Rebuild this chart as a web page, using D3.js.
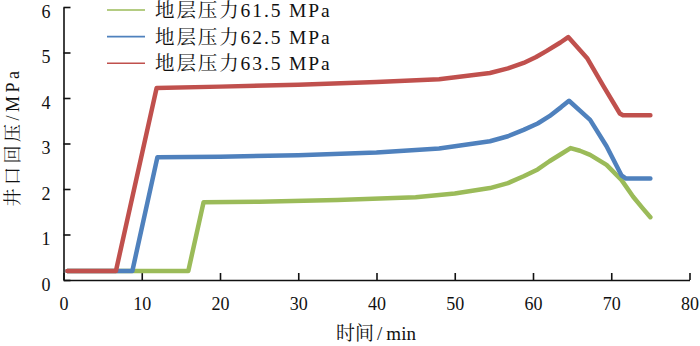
<!DOCTYPE html>
<html>
<head>
<meta charset="utf-8">
<script src="https://cdn.jsdelivr.net/npm/d3@7"></script>
<style>
  body { margin: 0; background: #fff; }
</style>
</head>
<body>
<div id="chart"></div>
<script>
// data: time (min) and wellhead back pressure (MPa)
var seriesNames = ["地层压力61.5 MPa", "地层压力62.5 MPa", "地层压力63.5 MPa"];
var seriesColors = ["#9BBB59", "#4F81BD", "#C0504D"];

var greenT = [0.5, 15.95, 17.9, 25, 35, 45, 50, 54.5, 56.8, 58.8, 60.6, 62.1, 63.7, 64.8, 66, 67.3, 69.4, 71.3, 72.8, 74, 75];
var greenP = [0.2, 0.2, 1.71, 1.72, 1.76, 1.82, 1.9, 2.02, 2.13, 2.28, 2.43, 2.61, 2.78, 2.90, 2.84, 2.75, 2.53, 2.20, 1.83, 1.58, 1.38];

var blueT = [0.5, 8.8, 12.0, 20, 30, 40, 48, 54.5, 56.8, 58.8, 60.6, 62.1, 63.6, 64.6, 67.3, 69.4, 71.3, 71.9, 75];
var blueP = [0.2, 0.2, 2.70, 2.71, 2.74, 2.80, 2.89, 3.05, 3.16, 3.30, 3.44, 3.60, 3.80, 3.94, 3.52, 2.94, 2.30, 2.23, 2.23];

var redT = [0.5, 6.7, 11.9, 20, 30, 40, 48, 54.5, 56.8, 58.8, 60.4, 61.7, 63.5, 64.5, 66.9, 69.0, 71.1, 71.5, 75];
var redP = [0.2, 0.2, 4.22, 4.25, 4.29, 4.35, 4.41, 4.55, 4.65, 4.77, 4.90, 5.03, 5.22, 5.34, 4.88, 4.26, 3.66, 3.62, 3.62];

var xTicks = [0, 10, 20, 30, 40, 50, 60, 70, 80];
var yTicks = [0, 1, 2, 3, 4, 5, 6];

var font = "'Liberation Serif', 'Noto Serif CJK SC', 'Noto Sans CJK SC', serif";

var svgWidth = 700, svgHeight = 346;
var margin = {top: 7, right: 10, bottom: 66, left: 63.5};
var width = 689.5 - margin.left;
var height = 280 - margin.top;

var svg = d3.select("#chart").append("svg")
  .attr("width", svgWidth)
  .attr("height", svgHeight);

var chartGroup = svg.append("g")
  .attr("transform", `translate(${margin.left}, ${margin.top})`);

var x = d3.scaleLinear().domain([0, 80]).range([0, width]);
var y = d3.scaleLinear().domain([0, 6]).range([height, 0]);

// axes, ticks pointing inward
var bottomAxis = d3.axisBottom(x).tickValues(xTicks).tickFormat(d3.format("d"))
  .tickSize(-7).tickPadding(17).tickSizeOuter(0);
var leftAxis = d3.axisLeft(y).tickValues(yTicks).tickFormat(d3.format("d"))
  .tickSize(-7).tickPadding(13).tickSizeOuter(0);

var gx = chartGroup.append("g")
  .attr("transform", `translate(0, ${height})`)
  .call(bottomAxis);
var gy = chartGroup.append("g").call(leftAxis);

[gx, gy].forEach(function(g) {
  g.attr("font-family", null);
  g.selectAll("path, line").attr("stroke", "#111").attr("stroke-width", 1.6);
  g.selectAll("text")
    .style("font-family", font)
    .style("font-size", "18px")
    .style("fill", "#111");
});
// y labels sit a little below their ticks in the reference
gy.selectAll("text").attr("dy", "0.58em");

// lines: green under blue under red
var series = [
  {t: greenT, p: greenP},
  {t: blueT, p: blueP},
  {t: redT, p: redP}
];

var line = d3.line()
  .x(d => x(d[0]))
  .y(d => y(d[1]));

series.forEach(function(s, i) {
  var pts = s.t.map((t, j) => [t, s.p[j]]);
  chartGroup.append("path")
    .datum(pts)
    .attr("fill", "none")
    .attr("stroke", seriesColors[i])
    .attr("stroke-width", 4.5)
    .attr("stroke-linejoin", "round")
    .attr("stroke-linecap", "round")
    .attr("d", line);
});

// legend
var legend = svg.append("g");
seriesNames.forEach(function(name, i) {
  var ly = 10 + i * 26.6;
  legend.append("line")
    .attr("x1", 107).attr("x2", 145)
    .attr("y1", ly).attr("y2", ly)
    .attr("stroke", seriesColors[i])
    .attr("stroke-width", 1.6);
  legend.append("text")
    .attr("x", 155).attr("y", ly)
    .attr("dy", "0.36em")
    .style("font-family", font)
    .style("font-size", "19.5px")
    .style("letter-spacing", "1.9px")
    .style("fill", "#111")
    .text(name);
});

// axis titles
svg.append("text")
  .attr("transform", "translate(19, 137) rotate(-90)")
  .attr("text-anchor", "middle")
  .style("font-family", font)
  .style("font-size", "18px")
  .style("letter-spacing", "3.5px")
  .style("fill", "#111")
  .text("井口回压/MPa");

var xTitle = svg.append("text")
  .attr("x", 376)
  .attr("y", 340)
  .attr("text-anchor", "middle")
  .style("font-family", font)
  .style("font-size", "19px")
  .style("fill", "#111");
xTitle.append("tspan").text("时间");
xTitle.append("tspan").attr("dx", 3).text("/");
xTitle.append("tspan").attr("dx", 4).text("min");
</script>
</body>
</html>
